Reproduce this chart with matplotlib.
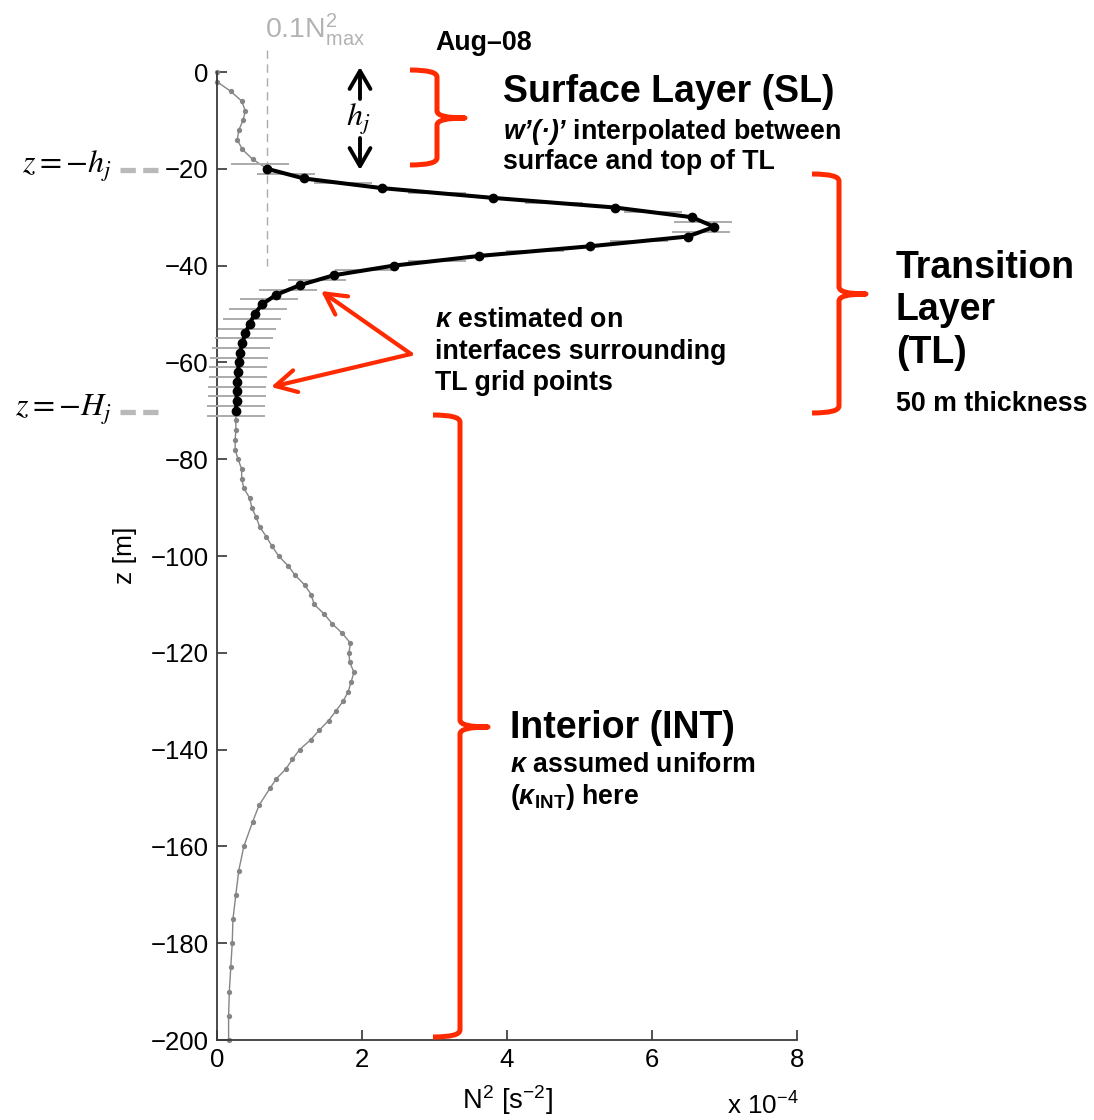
import numpy as np
import matplotlib
matplotlib.use('Agg')
import matplotlib.pyplot as plt
from matplotlib.path import Path
from matplotlib.patches import PathPatch

plt.rcParams['font.family'] = ['Liberation Sans', 'DejaVu Sans']
plt.rcParams['mathtext.fontset'] = 'custom'
plt.rcParams['mathtext.rm'] = 'Liberation Sans'
plt.rcParams['mathtext.it'] = 'Liberation Sans:italic'
plt.rcParams['mathtext.bf'] = 'Liberation Sans:bold'
plt.rcParams['mathtext.bfit'] = 'Liberation Sans:italic:bold'

# ---------------- data (N^2 in units of 1e-4 s^-2, z in m) ----------------
z_sl = [0, -2, -4, -6, -8, -10, -12, -14, -16, -18]
n2_sl = [0.0, 0.0, 0.19, 0.34, 0.39, 0.36, 0.30, 0.28, 0.35, 0.49]

z_tl = [-20, -22, -24, -26, -28, -30, -32, -34, -36, -38, -40, -42, -44,
        -46, -48, -50, -52, -54, -56, -58, -60, -62, -64, -66, -68, -70]
n2_tl = [0.69, 1.20, 2.28, 3.80, 5.49, 6.55, 6.86, 6.49, 5.15, 3.62, 2.44,
         1.61, 1.15, 0.82, 0.62, 0.52, 0.45, 0.39, 0.35, 0.32, 0.30, 0.29,
         0.28, 0.27, 0.27, 0.26]

z_int = [-72, -74, -76, -78, -80, -82, -84, -86, -88, -90, -92, -94, -96,
         -98, -100, -102, -104, -106, -108, -110, -112, -114, -116, -118,
         -120, -122, -124, -126, -128, -130, -132, -134, -136, -138, -140,
         -142, -144, -146, -148, -151.5, -155, -160, -165, -170, -175, -180,
         -185, -190, -195, -200]
n2_int = [0.26, 0.26, 0.25, 0.25, 0.29, 0.34, 0.34, 0.37, 0.45, 0.48, 0.54,
          0.59, 0.68, 0.76, 0.85, 0.98, 1.08, 1.21, 1.30, 1.34, 1.48, 1.59,
          1.73, 1.84, 1.82, 1.83, 1.89, 1.85, 1.81, 1.74, 1.64, 1.54, 1.41,
          1.29, 1.14, 1.04, 0.95, 0.82, 0.73, 0.58, 0.49, 0.37, 0.30, 0.26,
          0.22, 0.21, 0.19, 0.17, 0.16, 0.16]

# interfaces surrounding TL grid points
z_iface = [-19, -21, -23, -25, -27, -29, -31, -33, -35, -37, -39, -41, -43,
           -45, -47, -49, -51, -53, -55, -57, -59, -61, -63, -65, -67, -69, -71]
iface_halfwidth = 0.4

x_ticks = [0, 2, 4, 6, 8]
y_ticks = [0, -20, -40, -60, -80, -100, -120, -140, -160, -180, -200]

# ---------------- figure ----------------
W, H = 1094, 1120
fig = plt.figure(figsize=(W / 100, H / 100), dpi=100)
ax = fig.add_axes([217 / W, 1 - 1040 / H, (797 - 217) / W, (1040 - 72) / H])

z_all = np.array(z_sl + z_tl + z_int, dtype=float)
n2_all = np.array(n2_sl + n2_tl + n2_int, dtype=float)

grey = '#858585'
ax.plot(n2_all, z_all, '-', color=grey, lw=1.0, zorder=2, clip_on=False)
ax.plot(n2_all, z_all, 'o', color=grey, ms=3.8, mew=0, zorder=2, clip_on=False)

# interface bars
order = np.argsort(-z_all)
c_iface = np.interp(-np.array(z_iface, float), -z_all[order], n2_all[order])
ax.hlines(z_iface, c_iface - iface_halfwidth, c_iface + iface_halfwidth,
          color='#ababab', lw=1.4, zorder=3, clip_on=False)

# TL profile
ax.plot(n2_tl, z_tl, '-', color='k', lw=2.9, zorder=4)
ax.plot(n2_tl, z_tl, 'o', color='k', ms=6.0, zorder=5, clip_on=False)

# 0.1 N^2 max threshold
thr = 0.1 * max(n2_tl)
ax.plot([thr, thr], [4.6, -40], ls=(0, (6, 4)), color='#ababab', lw=1.0,
        zorder=1, clip_on=False)

ax.set_xlim(0, 8)
ax.set_ylim(-200, 0)
ax.set_xticks(x_ticks)
ax.set_yticks(y_ticks)
for s in ['top', 'right']:
    ax.spines[s].set_visible(False)
for s in ['left', 'bottom']:
    ax.spines[s].set_color('#3a3a3a')
    ax.spines[s].set_linewidth(1.3)
ax.tick_params(direction='in', length=7, width=1.1, labelsize=18.5,
               pad=6, color='#222222')

# ---------------- overlay in pixel coordinates ----------------
ov = fig.add_axes([0, 0, 1, 1], zorder=10)
ov.set_xlim(0, W)
ov.set_ylim(H, 0)
ov.axis('off')
ov.patch.set_alpha(0)

red = '#ff2a00'
big = 27
small = 19.3


def brace(x0, xv, xt, ytop, ymid, ybot, r=7):
    verts = [(x0, ytop), (xv, ytop), (xv, ytop + r),
             (xv, ymid - r), (xv, ymid), (xt, ymid),
             (xv, ymid), (xv, ymid + r),
             (xv, ybot - r), (xv, ybot), (x0, ybot)]
    codes = [Path.MOVETO, Path.CURVE3, Path.CURVE3,
             Path.LINETO, Path.CURVE3, Path.CURVE3,
             Path.CURVE3, Path.CURVE3,
             Path.LINETO, Path.CURVE3, Path.CURVE3]
    ov.add_patch(PathPatch(Path(verts, codes), fill=False, edgecolor=red,
                           lw=3.6, joinstyle='round', capstyle='butt'))


brace(410, 437, 465, 70, 118, 165)
brace(812, 839, 866, 174, 294, 413)
brace(433, 460, 488, 415, 727, 1037)

# red arrows
for tip in [(321, 291), (271, 387)]:
    ov.annotate('', xy=tip, xytext=(411, 354),
                arrowprops=dict(arrowstyle='->,head_length=1.5,head_width=0.8',
                                color=red, lw=3.0, shrinkA=0, shrinkB=0))

# h_j arrows
ov.annotate('', xy=(360, 67), xytext=(360, 99),
            arrowprops=dict(arrowstyle='->,head_length=1.3,head_width=0.75',
                            color='k', lw=2.8, shrinkA=0, shrinkB=0))
ov.annotate('', xy=(360, 170), xytext=(360, 138),
            arrowprops=dict(arrowstyle='->,head_length=1.3,head_width=0.75',
                            color='k', lw=2.8, shrinkA=0, shrinkB=0))
ov.text(358, 119, r'$h_j$', fontsize=23, ha='center', va='center',
        math_fontfamily='stix')

# left z labels with dashed grey
ov.text(112, 166, r'$z = -h_j$', fontsize=23, ha='right', va='center',
        math_fontfamily='stix')
ov.text(112, 410, r'$z = -H_j$', fontsize=23, ha='right', va='center',
        math_fontfamily='stix')
for yy in [170, 412]:
    ov.plot([120, 158], [yy, yy], color='#b9b9b9', lw=3.8,
            ls=(0, (2.9, 1.4)), solid_capstyle='butt', dash_capstyle='butt')

# threshold label
ov.text(265, 30, r'0.1N$^{2}_{\mathrm{max}}$', fontsize=20.5, color='#b3b3b3',
        ha='left', va='center')

# Aug-08
ov.text(435, 43, 'Aug\u201308', fontsize=small, fontweight='bold', ha='left',
        va='center')

# SL text
ov.text(503, 92, 'Surface Layer (SL)', fontsize=big, fontweight='bold',
        ha='left', va='center')
ov.text(503, 132, '$\\mathbfit{w\u2019(\u00b7)\u2019}$ interpolated between',
        fontsize=small, fontweight='bold', ha='left', va='center')
ov.text(503, 162, 'surface and top of TL', fontsize=small, fontweight='bold',
        ha='left', va='center')

# TL text
for txt, yy in [('Transition', 268), ('Layer', 310), ('(TL)', 353)]:
    ov.text(896, yy, txt, fontsize=big, fontweight='bold', ha='left',
            va='center')
ov.text(896, 404, '50 m thickness', fontsize=small, fontweight='bold',
        ha='left', va='center')

# kappa text
ov.text(435, 320, r'$\mathbfit{\kappa}$ estimated on', fontsize=small,
        fontweight='bold', ha='left', va='center')
ov.text(435, 352, 'interfaces surrounding', fontsize=small, fontweight='bold',
        ha='left', va='center')
ov.text(435, 383, 'TL grid points', fontsize=small, fontweight='bold',
        ha='left', va='center')

# INT text
ov.text(510, 728, 'Interior (INT)', fontsize=big, fontweight='bold',
        ha='left', va='center')
ov.text(510, 765, r'$\mathbfit{\kappa}$ assumed uniform', fontsize=small,
        fontweight='bold', ha='left', va='center')
ov.text(510, 797, r'($\mathbfit{\kappa}_{\mathbf{INT}}$) here', fontsize=small,
        fontweight='bold', ha='left', va='center')

# axis labels
ov.text(507, 1100, r'N$^{2}$ [s$^{-2}$]', fontsize=19.7, ha='center',
        va='center')
ov.text(727, 1106, r'x 10$^{-4}$', fontsize=18.7, ha='left', va='center')
ov.text(125, 555, 'z [m]', fontsize=19, ha='center', va='center',
        rotation=90)

fig.savefig('out.png', dpi=100)
